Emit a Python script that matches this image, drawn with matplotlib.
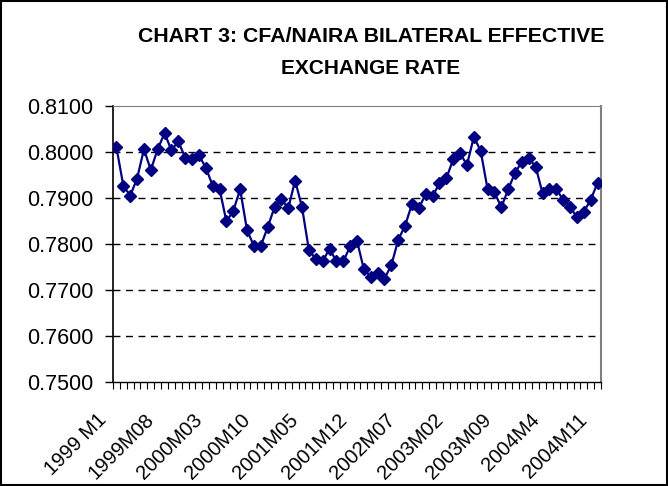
import matplotlib
matplotlib.use("Agg")
import matplotlib.pyplot as plt
from matplotlib.patches import Rectangle
from matplotlib.transforms import ScaledTranslation, blended_transform_factory
import numpy as np

plt.rcParams['font.family'] = ['Liberation Sans', 'DejaVu Sans']

title_lines = ["CHART 3: CFA/NAIRA BILATERAL EFFECTIVE", "EXCHANGE RATE"]

values = [
    0.8010, 0.7927, 0.7905, 0.7942, 0.8006, 0.7961, 0.8006, 0.8041, 0.8004, 0.8023,
    0.7988, 0.7984, 0.7993, 0.7966, 0.7927, 0.7920, 0.7849, 0.7872, 0.7919, 0.7830,
    0.7796, 0.7796, 0.7836, 0.7880, 0.7897, 0.7878, 0.7938, 0.7880, 0.7787, 0.7767,
    0.7762, 0.7790, 0.7762, 0.7762, 0.7795, 0.7807, 0.7745, 0.7729, 0.7736, 0.7725,
    0.7754, 0.7809, 0.7840, 0.7887, 0.7878, 0.7909, 0.7904, 0.7932, 0.7943, 0.7984,
    0.7997, 0.7972, 0.8033, 0.8002, 0.7919, 0.7912, 0.7880, 0.7919, 0.7955, 0.7979,
    0.7986, 0.7968, 0.7910, 0.7919, 0.7919, 0.7896, 0.7881, 0.7858, 0.7870, 0.7896,
    0.7933,
]

tick_labels = ["1999 M1", "1999M08", "2000M03", "2000M10", "2001M05", "2001M12",
               "2002M07", "2003M02", "2003M09", "2004M4", "2004M11"]
label_step = 7

y_ticks = [0.75, 0.76, 0.77, 0.78, 0.79, 0.80, 0.81]

fig = plt.figure(figsize=(6.68, 4.86), dpi=100)
fig.patch.set_facecolor('white')
fig.patches.append(Rectangle((0.0015, 0.002), 0.997, 0.996, transform=fig.transFigure,
                             fill=False, edgecolor='black', linewidth=1.5))

ax = fig.add_axes([113/668, 1-382/486, (601-113)/668, (382-106)/486])

x = np.arange(len(values))
ax.plot(x, values, color='#000080', linewidth=1.6, marker='D', markersize=6.2,
        markerfacecolor='#000080', markeredgecolor='#000080', zorder=3)

ax.set_xlim(-0.5, len(values) - 0.5)
ax.set_ylim(0.75, 0.81)
ax.set_yticks(y_ticks)
ax.set_yticklabels([f"{v:.4f}" for v in y_ticks], fontsize=15.5)

for v in y_ticks[1:-1]:
    ax.axhline(v, color='black', linewidth=1.0, linestyle=(0, (5, 4)), zorder=1)

pos = np.arange(0, len(values), label_step)
ax.set_xticks(pos)
ax.set_xticklabels([])
trans = blended_transform_factory(ax.transData, ax.transAxes) + \
    ScaledTranslation(-20/100, -28/100, fig.dpi_scale_trans)
for p, lab in zip(pos, tick_labels):
    ax.text(p, 0, lab, transform=trans, rotation=45, ha='right', va='top',
            rotation_mode='anchor', fontsize=14.5, clip_on=False)

ax.set_xticks(np.arange(-0.5, len(values), 1.0), minor=True)
ax.tick_params(axis='x', which='major', length=0)
ax.tick_params(axis='x', which='minor', length=5, width=0.8, direction='out')
ax.tick_params(axis='y', which='major', length=6, width=1, direction='out', pad=8)

ax.spines['left'].set_color('black')
ax.spines['left'].set_linewidth(1.2)
ax.spines['bottom'].set_color('black')
ax.spines['bottom'].set_linewidth(1.0)
ax.spines['top'].set_color('#808080')
ax.spines['right'].set_color('#808080')
ax.spines['right'].set_linewidth(1.5)

fig.text(371/668, 1-37/486, title_lines[0], ha='center', va='center',
         fontsize=15.3, fontweight='bold')
fig.text(371/668, 1-68/486, title_lines[1], ha='center', va='center',
         fontsize=15, fontweight='bold')

fig.savefig("out.png", dpi=100, facecolor='white')
